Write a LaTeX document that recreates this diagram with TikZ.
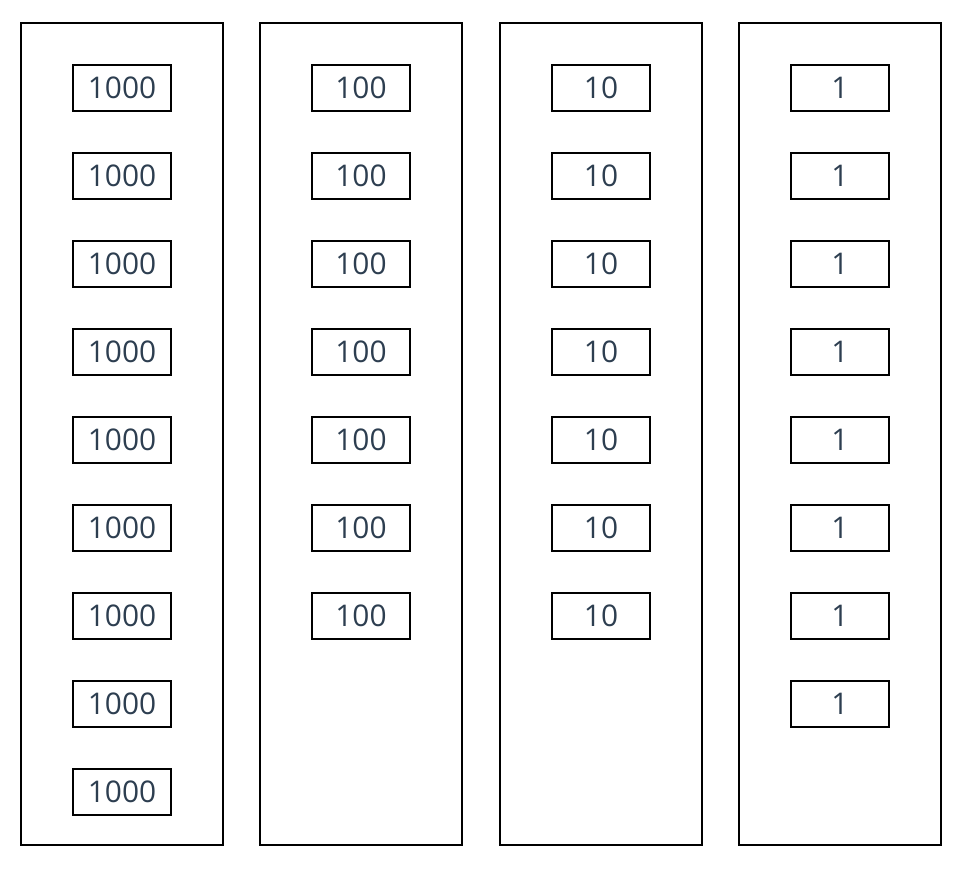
\documentclass[tikz,border=0pt]{standalone}
\usepackage{fontspec}
\setmainfont{Open Sans}
\usepackage{tikz}
\usetikzlibrary{positioning}
\definecolor{digit}{RGB}{45,62,80}

\begin{document}
\begin{tikzpicture}[
  column/.style={rectangle, draw=black, line width=1.1pt, minimum width=4.04cm, minimum height=16.44cm, inner sep=0pt, outer sep=0pt},
  chip/.style={rectangle, draw=black, line width=1.1pt, minimum width=1.96cm, minimum height=0.92cm, inner sep=0pt, outer sep=0pt, text=digit, font=\fontsize{17}{20}\selectfont},
  node distance=0.84cm
]
\useasboundingbox (0,0) rectangle (19.24,17.4);

% --- Spalten ---
\node[column] (thousands) at (2.44, 8.72) {};
\node[column] (hundreds)  at (7.22, 8.72) {};
\node[column] (tens)      at (12.02, 8.72) {};
\node[column] (ones)      at (16.80, 8.72) {};

% --- Tausender ---
\node[chip] (th1) at (2.44, 15.64) {1000};
\node[chip, below=of th1] (th2) {1000};
\node[chip, below=of th2] (th3) {1000};
\node[chip, below=of th3] (th4) {1000};
\node[chip, below=of th4] (th5) {1000};
\node[chip, below=of th5] (th6) {1000};
\node[chip, below=of th6] (th7) {1000};
\node[chip, below=of th7] (th8) {1000};
\node[chip, below=of th8] (th9) {1000};

% --- Hunderter ---
\node[chip] (hu1) at (7.22, 15.64) {100};
\node[chip, below=of hu1] (hu2) {100};
\node[chip, below=of hu2] (hu3) {100};
\node[chip, below=of hu3] (hu4) {100};
\node[chip, below=of hu4] (hu5) {100};
\node[chip, below=of hu5] (hu6) {100};
\node[chip, below=of hu6] (hu7) {100};

% --- Zehner ---
\node[chip] (te1) at (12.02, 15.64) {10};
\node[chip, below=of te1] (te2) {10};
\node[chip, below=of te2] (te3) {10};
\node[chip, below=of te3] (te4) {10};
\node[chip, below=of te4] (te5) {10};
\node[chip, below=of te5] (te6) {10};
\node[chip, below=of te6] (te7) {10};

% --- Einer ---
\node[chip] (on1) at (16.80, 15.64) {1};
\node[chip, below=of on1] (on2) {1};
\node[chip, below=of on2] (on3) {1};
\node[chip, below=of on3] (on4) {1};
\node[chip, below=of on4] (on5) {1};
\node[chip, below=of on5] (on6) {1};
\node[chip, below=of on6] (on7) {1};
\node[chip, below=of on7] (on8) {1};
\end{tikzpicture}
\end{document}
